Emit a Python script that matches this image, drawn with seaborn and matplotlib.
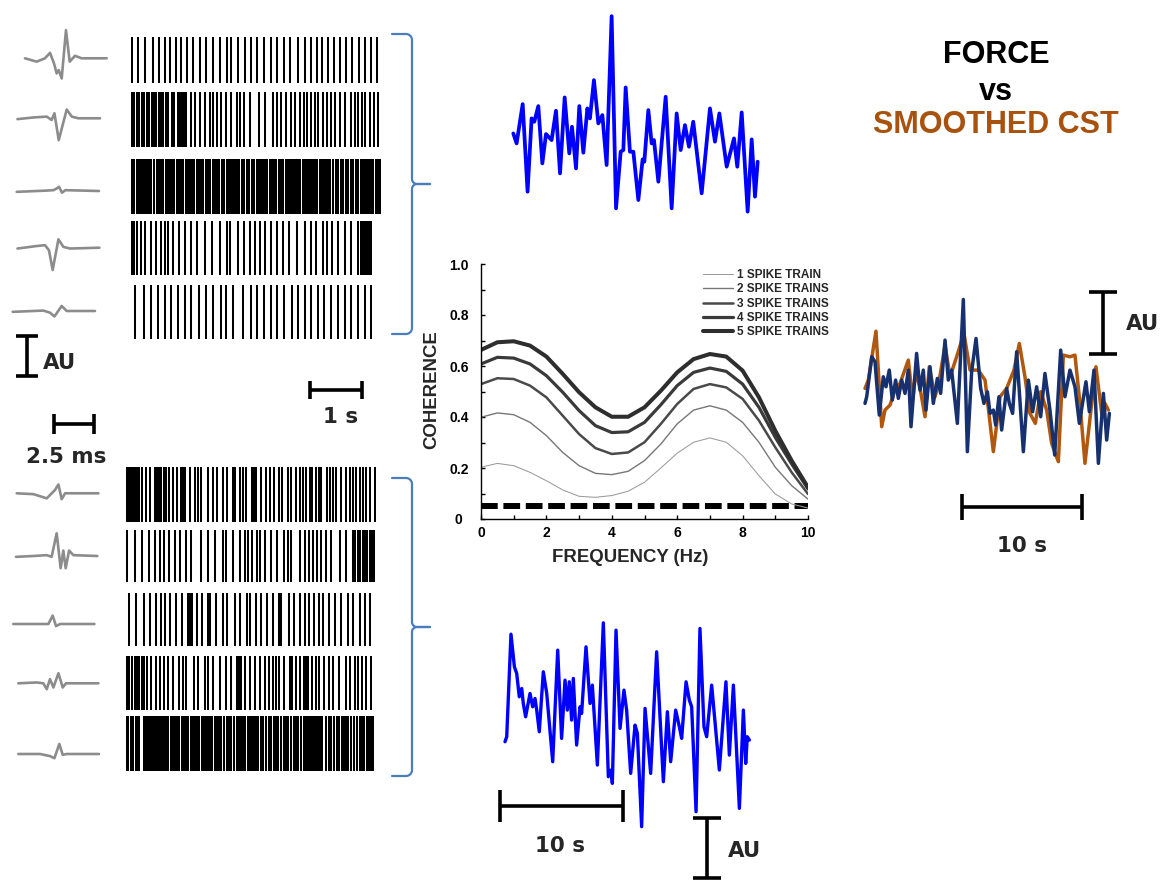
import matplotlib
matplotlib.use("Agg")
import numpy as np
import matplotlib.pyplot as plt
import seaborn as sns

# ---------------------------------------------------------------- data ----
# Coherence spectra (force vs CST built from 1..5 spike trains)
freq_hz = [0, 0.5, 1, 1.5, 2, 2.5, 3, 3.5, 4, 4.5, 5, 5.5, 6, 6.5, 7, 7.5, 8, 8.5, 9, 9.5, 10]
coh_1 = [0.203, 0.218, 0.209, 0.183, 0.150, 0.114, 0.089, 0.085, 0.092, 0.109, 0.144,
         0.200, 0.258, 0.301, 0.318, 0.301, 0.248, 0.170, 0.098, 0.059, 0.043]
coh_2 = [0.399, 0.416, 0.409, 0.379, 0.327, 0.261, 0.209, 0.179, 0.174, 0.187, 0.229,
         0.294, 0.373, 0.427, 0.444, 0.427, 0.379, 0.301, 0.203, 0.131, 0.078]
coh_3 = [0.529, 0.552, 0.549, 0.523, 0.477, 0.405, 0.333, 0.278, 0.255, 0.261, 0.301,
         0.373, 0.451, 0.510, 0.529, 0.516, 0.471, 0.386, 0.281, 0.183, 0.098]
coh_4 = [0.608, 0.634, 0.631, 0.608, 0.562, 0.497, 0.425, 0.366, 0.339, 0.342, 0.379,
         0.448, 0.523, 0.575, 0.592, 0.579, 0.529, 0.438, 0.320, 0.216, 0.118]
coh_5 = [0.663, 0.693, 0.697, 0.680, 0.637, 0.569, 0.497, 0.438, 0.401, 0.401, 0.438,
         0.503, 0.575, 0.627, 0.647, 0.637, 0.582, 0.477, 0.346, 0.229, 0.124]
coh_labels = ["1 SPIKE TRAIN", "2 SPIKE TRAINS", "3 SPIKE TRAINS", "4 SPIKE TRAINS", "5 SPIKE TRAINS"]
significance_level = 0.052
x_ticks = [0, 2, 4, 6, 8, 10]
y_ticks = [0, 0.2, 0.4, 0.6, 0.8, 1.0]
y_tick_labels = ["0", "0.2", "0.4", "0.6", "0.8", "1.0"]

# Spike trains (spike times in ~19 ms bins)
top_train_1 = [0, 6, 13, 21, 27, 33, 38, 44, 49, 55, 61, 68, 74, 81, 88, 95, 99, 106, 113, 119, 125, 132,
               139, 145, 152, 158, 166, 173, 179, 185, 190, 196, 202, 208, 214, 220, 227, 233, 239, 245]
top_train_2 = [0, 2, 5, 7, 10, 12, 15, 17, 20, 22, 24, 27, 29, 31, 34, 36, 40, 42, 46, 48, 50, 52, 54, 59,
               63, 68, 73, 78, 81, 85, 89, 94, 99, 105, 108, 112, 118, 127, 133, 141, 145, 149, 154, 159,
               163, 168, 172, 175, 179, 183, 186, 191, 195, 199, 203, 208, 213, 219, 223, 226, 230, 233,
               238, 242, 246]
top_train_3 = [0, 2, 5, 7, 9, 11, 13, 15, 17, 19, 22, 25, 27, 29, 31, 34, 36, 38, 40, 42, 45, 47, 49, 51,
               54, 56, 58, 60, 62, 65, 67, 69, 71, 74, 76, 78, 81, 83, 85, 87, 90, 92, 95, 97, 99, 101,
               103, 105, 107, 110, 112, 115, 117, 120, 122, 125, 127, 129, 131, 133, 135, 138, 140, 142,
               144, 147, 149, 151, 154, 156, 158, 160, 162, 164, 166, 168, 171, 173, 175, 177, 179, 181,
               183, 185, 188, 190, 192, 194, 196, 198, 201, 204, 206, 209, 211, 214, 216, 219, 221, 224,
               226, 229, 231, 233, 235, 237, 239, 241, 244, 246, 248]
top_train_4 = [0, 2, 5, 9, 13, 19, 24, 29, 33, 36, 41, 47, 53, 59, 65, 73, 80, 88, 95, 98, 106, 112, 118,
               123, 128, 133, 139, 145, 151, 157, 165, 173, 179, 184, 191, 195, 200, 206, 213, 219, 226,
               229, 231, 233, 235, 237, 239]
top_train_5 = [3, 12, 19, 26, 33, 39, 46, 53, 59, 67, 74, 81, 89, 94, 101, 111, 119, 125, 132, 139, 145,
               152, 160, 166, 173, 179, 186, 192, 199, 206, 213, 219, 226, 233, 239]
bottom_train_1 = [0, 2, 4, 6, 8, 10, 12, 15, 19, 23, 28, 30, 32, 34, 37, 39, 42, 46, 50, 54, 56, 58, 63,
                  68, 71, 74, 81, 86, 90, 96, 100, 106, 108, 113, 116, 119, 125, 127, 129, 134, 139, 143,
                  147, 152, 155, 161, 164, 169, 173, 176, 179, 183, 185, 189, 192, 194, 200, 203, 206,
                  209, 214, 219, 223, 226, 229, 233, 236, 239, 243, 248]
bottom_train_2 = [0, 8, 15, 22, 28, 33, 37, 42, 48, 53, 59, 64, 74, 81, 88, 96, 99, 106, 113, 118, 121,
                  125, 130, 133, 138, 144, 150, 157, 161, 164, 173, 178, 182, 186, 190, 194, 199, 204,
                  213, 219, 226, 228, 231, 233, 236, 238, 240, 243, 245, 247]
bottom_train_3 = [2, 9, 17, 23, 29, 34, 38, 43, 49, 55, 61, 63, 65, 70, 75, 81, 83, 89, 96, 100, 108, 113,
                  120, 123, 129, 134, 140, 146, 152, 154, 162, 167, 173, 178, 182, 187, 192, 196, 202,
                  208, 214, 221, 226, 233, 238, 243]
bottom_train_4 = [0, 2, 5, 8, 10, 12, 15, 17, 20, 24, 29, 33, 37, 41, 46, 52, 56, 59, 67, 71, 78, 81, 86,
                  93, 99, 104, 110, 112, 114, 118, 123, 128, 133, 138, 142, 146, 149, 152, 157, 163, 165,
                  169, 173, 177, 179, 181, 185, 189, 192, 197, 202, 206, 212, 219, 223, 228, 231, 235,
                  239, 244]
bottom_train_5 = [0, 1, 4, 6, 9, 11, 12, 17, 19, 21, 23, 25, 27, 29, 31, 33, 35, 37, 39, 41, 44, 46, 48,
                  50, 52, 55, 57, 59, 61, 64, 66, 68, 70, 72, 75, 77, 79, 81, 83, 85, 88, 90, 92, 94, 97,
                  100, 102, 104, 107, 110, 112, 114, 116, 118, 121, 123, 125, 127, 129, 131, 134, 136,
                  139, 142, 144, 147, 149, 151, 154, 157, 159, 161, 164, 167, 169, 171, 174, 177, 179,
                  181, 183, 185, 187, 189, 191, 193, 195, 199, 202, 204, 207, 210, 212, 215, 217, 219,
                  221, 224, 227, 230, 233, 235, 237, 240, 242, 244, 246]

# Motor-unit action potential templates (time in ms, amplitude in AU)
top_wave_t = [
    [0.56, 1.35, 1.91, 2.25, 2.52, 2.70, 2.84, 3.04, 3.33, 3.58, 3.94, 4.39, 6.08],
    [0.05, 1.13, 2.03, 2.36, 2.55, 2.84, 3.38, 3.72, 4.17, 5.63],
    [0.00, 2.03, 2.48, 2.70, 2.86, 3.06, 3.29, 5.56],
    [0.05, 1.35, 1.91, 2.18, 2.43, 2.82, 3.15, 3.60, 5.59],
    [-0.27, 1.80, 2.25, 2.55, 3.04, 3.38, 5.29],
]
top_wave_a = [
    [0, -0.08, 0, 0.13, -0.12, -0.36, -0.28, -0.48, 0.67, -0.08, 0.06, 0, 0],
    [-0.02, 0.02, 0.04, -0.04, 0.12, -0.52, 0.21, 0.04, 0, 0],
    [-0.02, 0.01, 0.02, 0.06, 0.10, -0.04, 0.02, 0],
    [-0.02, 0.04, 0.06, -0.06, -0.53, 0.20, 0.02, -0.02, 0],
    [-0.02, 0.01, -0.04, -0.13, 0.12, 0, 0],
]
bottom_wave_t = [
    [0.00, 1.13, 2.03, 2.59, 2.82, 3.04, 3.27, 5.52],
    [-0.05, 1.13, 2.03, 2.36, 2.70, 2.97, 3.15, 3.31, 3.54, 3.83, 5.45],
    [-0.23, 2.14, 2.43, 2.66, 2.93, 5.25],
    [0.11, 1.35, 1.80, 2.03, 2.25, 2.48, 2.82, 3.11, 3.33, 5.52],
    [0.11, 1.58, 2.25, 2.55, 2.88, 3.11, 3.38, 5.56],
]
bottom_wave_a = [
    [0, -0.02, -0.12, 0.08, 0.21, -0.14, 0, 0],
    [-0.02, 0, 0.02, -0.02, 0.54, -0.29, 0.13, -0.29, 0.13, 0.02, 0],
    [0, 0, 0.20, -0.05, 0, 0],
    [0, 0.02, 0, -0.14, 0.10, -0.10, 0.24, -0.10, 0, 0],
    [0, 0, -0.05, -0.10, 0.24, -0.02, 0, 0],
]

# Smoothed CST traces (time in s, amplitude in AU)
cst_top_t = [0.00, 0.27, 0.77, 1.17, 1.50, 1.72, 2.05, 2.38, 2.68, 3.14, 3.50, 3.83, 4.21, 4.59, 4.81,
             5.14, 5.41, 5.74, 6.07, 6.28, 6.61, 6.97, 7.30, 7.65, 8.06, 8.42, 8.80, 9.02, 9.21, 9.56,
             9.84, 10.25, 10.60, 10.74, 11.07, 11.34, 11.53, 11.89, 12.49, 12.98, 13.39, 13.72, 14.07,
             14.40, 14.75, 15.44, 16.12, 16.53, 16.89, 17.49, 18.09, 18.36, 18.72, 19.21, 19.54, 19.81,
             20.03]
cst_top_a = [1.00, 0.70, 1.88, -0.75, 1.45, 1.35, 1.82, 0.10, 0.98, 0.80, 1.68, -0.20, 2.08, 0.40, 1.20,
             -0.05, 1.82, 0.42, 1.75, 1.45, 2.60, 1.30, 1.55, 0.05, 4.52, -1.25, 0.45, 0.50, 2.38, 0.45,
             0.45, -1.00, 0.22, 0.15, 1.70, 0.70, 0.80, -0.45, 2.10, -1.25, 1.60, 0.50, 1.25, 0.60,
             1.35, -0.80, 1.75, 0.75, 1.60, 0.00, 0.85, 0.00, 1.63, -1.35, 0.82, -0.90, 0.15]
cst_bottom_t = [0.00, 0.14, 0.49, 0.77, 0.96, 1.17, 1.37, 1.50, 1.69, 2.05, 2.27, 2.46, 2.60, 2.81, 3.14,
                3.42, 3.91, 4.32, 4.64, 4.92, 5.11, 5.27, 5.46, 5.60, 5.87, 6.15, 6.28, 6.64, 6.97, 7.16,
                7.57, 8.06, 8.47, 8.69, 8.80, 9.10, 9.43, 9.75, 9.97, 10.30, 10.66, 10.85, 11.20, 11.48,
                11.94, 12.43, 12.98, 13.31, 13.58, 13.99, 14.29, 14.48, 14.84, 15.11, 15.30, 15.66,
                15.98, 16.31, 16.53, 16.94, 17.57, 18.11, 18.39, 18.72, 19.21, 19.54, 19.73, 19.86, 20.03]
cst_bottom_a = [1.05, 1.20, 4.28, 3.30, 3.10, 2.40, 2.65, 2.20, 1.80, 2.50, 2.10, 2.35, 2.00, 1.35, 3.15,
                2.50, 0.45, 3.80, 1.15, 2.90, 2.00, 2.85, 1.70, 2.95, 0.95, 2.10, 1.90, 3.90, 2.20, 2.75,
                0.35, 4.62, 0.00, 0.20, -0.20, 4.40, 1.45, 2.60, 2.00, 0.10, 1.55, 1.30, -1.50, 2.05,
                0.10, 3.75, -0.15, 1.95, 0.45, 2.00, 1.50, 1.15, 2.85, 2.30, 2.10, -1.05, 4.45, 1.50,
                1.20, 2.75, 0.20, 2.85, 0.65, 2.75, -0.95, 2.00, 0.40, 1.20, 1.10]

# Force vs smoothed CST (right panel)
force_t = [0.00, 0.14, 0.55, 0.82, 1.17, 1.50, 1.72, 1.99, 2.24, 2.51, 2.73, 3.01, 3.28, 3.55, 3.77, 4.23,
           4.51, 4.78, 5.00, 5.33, 5.60, 5.93, 6.20, 6.56, 6.83, 7.10, 7.57, 8.06, 8.39, 8.74, 9.10, 9.48,
           9.75, 10.03, 10.25, 10.52, 10.71, 10.98, 11.20, 11.61, 11.83, 12.10, 12.43, 12.98, 13.39,
           13.74, 14.07, 14.40, 14.75, 15.16, 15.55, 16.04, 16.39, 16.80, 17.21, 17.57, 18.11, 18.39,
           18.77, 19.13, 19.54, 19.81, 20.03]
force_a = [1.00, 1.20, 2.40, 2.25, 0.65, 1.80, 1.50, 2.00, 1.10, 1.70, 1.15, 1.70, 1.30, 2.00, 0.30, 2.50,
           1.40, 2.00, 0.80, 2.10, 1.00, 1.75, 1.30, 2.90, 1.70, 2.00, 0.40, 4.12, -0.45, 1.95, 2.95, 1.45,
           1.00, 1.35, 0.70, 0.80, 0.35, 1.20, 0.20, 1.45, 1.00, 0.70, 2.55, -0.45, 1.70, 0.75, 1.50,
           0.60, 1.90, 0.80, -0.55, 2.60, 1.20, 2.00, 1.50, 0.40, 1.65, 0.75, 2.00, -0.80, 1.30, -0.10,
           0.70]
cst_smooth_t = [0.00, 0.27, 0.90, 1.37, 1.64, 2.05, 2.46, 2.87, 3.55, 3.91, 4.18, 4.56, 4.92, 5.27, 5.74,
                6.09, 6.56, 6.97, 7.51, 8.11, 8.61, 9.29, 9.84, 10.52, 11.07, 11.61, 12.21, 12.65, 13.11,
                13.52, 13.96, 14.40, 14.89, 15.30, 15.85, 16.26, 16.80, 17.21, 17.62, 18.03, 18.58,
                18.93, 19.40, 19.67, 19.95]
cst_smooth_a = [1.45, 1.70, 3.17, 0.30, 0.80, 0.95, 1.40, 1.60, 2.30, 1.10, 2.00, 1.35, 0.60, 2.10, 1.20,
                1.70, 2.75, 1.80, 2.40, 3.10, 2.00, 2.00, 1.70, -0.45, 1.20, 1.45, 2.00, 2.80, 1.80,
                0.70, 0.40, 1.35, 0.80, -0.20, -0.75, 2.45, 2.40, 2.45, 1.00, -0.80, 1.00, 2.10, 0.70,
                1.00, 0.80]

# ---------------------------------------------------------------- style ---
sns.set_style("white")
plt.rcParams["font.family"] = ["Liberation Sans", "DejaVu Sans"]

W, H = 1173, 882
fig = plt.figure(figsize=(W / 100, H / 100), dpi=100)
fig.patch.set_facecolor("white")


def px_axes(left, top, right, bottom):
    return fig.add_axes([left / W, 1 - bottom / H, (right - left) / W, (bottom - top) / H])


over = px_axes(0, 0, W, H)
over.set_xlim(0, W)
over.set_ylim(H, 0)
over.set_axis_off()


def trace_axes(ox, oy, sx, sy, series, pad=4):
    xs = np.concatenate([np.asarray(s[0], float) for s in series])
    ys = np.concatenate([np.asarray(s[1], float) for s in series])
    x0, x1 = xs.min() - pad / sx, xs.max() + pad / sx
    y0, y1 = ys.min() - pad / sy, ys.max() + pad / sy
    ax = px_axes(ox + x0 * sx, oy - y1 * sy, ox + x1 * sx, oy - y0 * sy)
    for x, y, color, lw in series:
        sns.lineplot(x=x, y=y, ax=ax, color=color, linewidth=lw, sort=False, estimator=None,
                     solid_capstyle="round", solid_joinstyle="round")
    ax.set_xlim(x0, x1)
    ax.set_ylim(y0, y1)
    ax.set_axis_off()
    return ax


BIN_LO, BIN_HI = -1, 252


def raster(x0, top, bottom, spikes):
    ax = px_axes(x0 + BIN_LO, top, x0 + BIN_HI, bottom)
    sns.rugplot(x=spikes, ax=ax, height=1.0, color="black", linewidth=1.45, expand_margins=False)
    ax.set_xlim(BIN_LO, BIN_HI)
    ax.set_ylim(0, 1)
    ax.set_axis_off()


# ---------------------------------------------------------- spike trains --
top_trains = [top_train_1, top_train_2, top_train_3, top_train_4, top_train_5]
bottom_trains = [bottom_train_1, bottom_train_2, bottom_train_3, bottom_train_4, bottom_train_5]
top_rows = [(37, 83), (92, 147), (159, 214), (221, 275), (285, 339)]
bottom_rows = [(467, 522), (530, 582), (593, 646), (656, 710), (716, 771)]
for spikes, (t, b) in zip(top_trains, top_rows):
    raster(132.3, t, b, spikes)
for spikes, (t, b) in zip(bottom_trains, bottom_rows):
    raster(127.3, t, b, spikes)

# -------------------------------------------------------------- waveforms -
WAVE_GREY = "#8c8c8c"
top_baselines = [58.3, 118.3, 191.0, 247.7, 311.0]
bottom_baselines = [493.3, 556.0, 624.0, 683.3, 754.0]
for t, a, base in zip(top_wave_t, top_wave_a, top_baselines):
    trace_axes(16.7, base, 14.8, 42.0, [(t, a, WAVE_GREY, 1.9)])
for t, a, base in zip(bottom_wave_t, bottom_wave_a, bottom_baselines):
    trace_axes(16.7, base, 14.8, 42.0, [(t, a, WAVE_GREY, 1.9)])

# ------------------------------------------------------------- CST traces -
BLUE = "#0000ff"
NAVY = "#17306e"
BROWN = "#b0580f"
trace_axes(513.3, 166.7, 12.2, 33.3, [(cst_top_t, cst_top_a, BLUE, 2.7)])
trace_axes(505.0, 776.7, 12.2, 33.3, [(cst_bottom_t, cst_bottom_a, BLUE, 2.4)])
trace_axes(865.0, 436.7, 12.2, 33.3, [(cst_smooth_t, cst_smooth_a, BROWN, 2.5),
                                      (force_t, force_a, NAVY, 2.5)])

# ------------------------------------------------------------- coherence --
ax = px_axes(481, 264, 808, 519)
coh_series = [coh_1, coh_2, coh_3, coh_4, coh_5]
coh_colors = ["#9a9a9a", "#777777", "#4a4a4a", "#3a3a3a", "#2e2e2e"]
coh_widths = [0.75, 1.0, 1.8, 2.3, 2.9]
for vals, lab, col, lw in zip(coh_series, coh_labels, coh_colors, coh_widths):
    sns.lineplot(x=freq_hz, y=vals, ax=ax, color=col, linewidth=lw, label=lab,
                 sort=False, estimator=None, solid_joinstyle="round")
ax.axhline(significance_level, color="black", linewidth=4.3, dashes=(2.8, 0.95), zorder=1)
ax.set_xlim(0, 10)
ax.set_ylim(0, 1.0)
ax.set_xticks(x_ticks)
ax.set_xticklabels([str(v) for v in x_ticks])
ax.set_xticks([1, 3, 5, 7, 9], minor=True)
ax.set_yticks(y_ticks)
ax.set_yticklabels(y_tick_labels)
ax.set_yticks([0.1, 0.3, 0.5, 0.7, 0.9], minor=True)
ax.tick_params(which="both", direction="in", length=3, width=1, colors="black",
               bottom=True, left=True, top=False, right=False)
ax.tick_params(axis="x", which="major", pad=5, labelsize=10)
ax.tick_params(axis="y", which="major", pad=16, labelsize=10)
for lbl in ax.get_xticklabels() + ax.get_yticklabels():
    lbl.set_fontweight("bold")
for lbl in ax.get_yticklabels():
    lbl.set_ha("center")
for side in ("top", "right"):
    ax.spines[side].set_visible(False)
for side in ("left", "bottom"):
    ax.spines[side].set_color("black")
    ax.spines[side].set_linewidth(1.0)
ax.set_xlabel("")
ax.set_ylabel("")
ax.set_facecolor("none")
ax.legend(loc="upper left", bbox_to_anchor=((703 - 481) / 327, (519 - 269) / 255),
          frameon=False, prop={"family": "Liberation Sans", "weight": "bold", "size": 8.5},
          handlelength=2.55, handletextpad=0.35, labelspacing=0.2, borderpad=0, borderaxespad=0)

over.text(630, 558, "FREQUENCY (Hz)", ha="center", va="center", fontsize=13.4, fontweight="bold")
over.text(432, 390, "COHERENCE", ha="center", va="center", rotation=90, fontsize=13.4,
          fontweight="bold")

# ------------------------------------------------------ annotations -------
BAR_LW = 2.6
SB_FONT = {"family": "DejaVu Sans", "weight": "bold", "size": 15.4}


def hbar(x0, x1, y, cap):
    over.plot([x0, x1], [y, y], color="black", lw=BAR_LW, solid_capstyle="butt")
    for x in (x0, x1):
        over.plot([x, x], [y - cap, y + cap], color="black", lw=BAR_LW, solid_capstyle="butt")


def vbar(x, y0, y1, cap):
    over.plot([x, x], [y0, y1], color="black", lw=BAR_LW, solid_capstyle="butt")
    for y in (y0, y1):
        over.plot([x - cap, x + cap], [y, y], color="black", lw=BAR_LW, solid_capstyle="butt")


vbar(27, 336, 376, 11)
over.text(43, 369, "AU", ha="left", va="baseline", **SB_FONT)
hbar(54, 94, 424, 10)
over.text(66, 463, "2.5 ms", ha="center", va="baseline", **SB_FONT)
hbar(310, 362, 390, 9)
over.text(341, 423, "1 s", ha="center", va="baseline", **SB_FONT)
hbar(500, 623, 806, 16)
over.text(560, 852, "10 s", ha="center", va="baseline", **SB_FONT)
vbar(707, 818, 878, 14)
over.text(728, 857, "AU", ha="left", va="baseline", **SB_FONT)
vbar(1103, 292, 354, 14)
over.text(1126, 330, "AU", ha="left", va="baseline", **SB_FONT)
hbar(962, 1082, 507, 13)
over.text(1022, 552, "10 s", ha="center", va="baseline", **SB_FONT)

TITLE_FONT = {"family": "Liberation Sans", "weight": "bold", "size": 22}
over.text(996, 63, "FORCE", ha="center", va="baseline", color="black", **TITLE_FONT)
over.text(996, 100, "vs", ha="center", va="baseline", color="black", **TITLE_FONT)
over.text(996, 133, "SMOOTHED CST", ha="center", va="baseline", color="#a8520f", **TITLE_FONT)


def brace(x_end, x_v, x_tip, y_top, y_bot, r_end=6.0, r_mid=5.0):
    y_mid = (y_top + y_bot) / 2
    th = np.linspace(0, np.pi / 2, 12)
    for sgn in (1, -1):
        ye = y_mid - sgn * (y_mid - y_top)
        xs = [x_end]
        ys = [ye]
        xs += list(x_v - r_end + r_end * np.sin(th))
        ys += list(ye + sgn * (r_end - r_end * np.cos(th)))
        xs += list(x_v + r_mid - r_mid * np.cos(th))
        ys += list(y_mid - sgn * (r_mid - r_mid * np.sin(th)))
        xs.append(x_tip)
        ys.append(y_mid)
        over.plot(xs, ys, color="#4a7ebb", lw=1.6, solid_joinstyle="round", solid_capstyle="round")


brace(392, 412, 430, 34, 334)
brace(392, 412, 430, 478, 776)

fig.savefig("out.png", dpi=100, facecolor="white")
